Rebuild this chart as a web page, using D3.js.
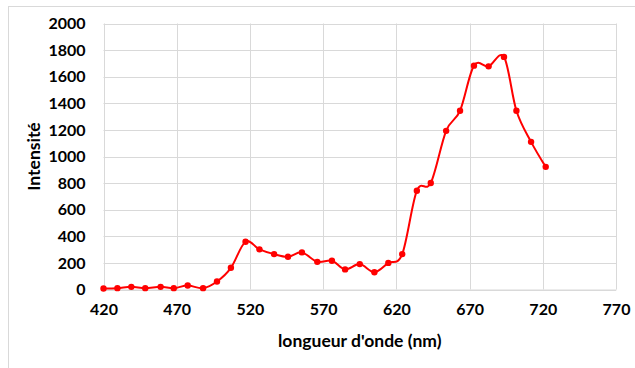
<!DOCTYPE html>
<html>
<head>
<meta charset="utf-8">
<script src="https://cdn.jsdelivr.net/npm/d3@7/dist/d3.min.js"></script>
<style>
  html, body { margin: 0; padding: 0; background: #fff; }
  svg { display: block; }
  text { font-family: Lato, "Open Sans", sans-serif; font-weight: bold; fill: #000; }
</style>
</head>
<body>
<svg id="chart" width="635" height="368"></svg>
<script>
// Spectre : longueur d'onde (nm) et intensité mesurée
const wavelengths = [420, 429.5, 439, 448.5, 459, 468, 477.5, 488, 497.5, 507, 517, 526.5,
                     536.5, 546, 555.5, 566, 576, 585, 595, 605, 614.5, 624, 634, 643.5,
                     654, 663.5, 673, 683, 693.5, 702, 712, 722];
const intensities = [8, 10, 20, 10, 20, 10, 30, 10, 60, 163, 359, 302,
                     266, 246, 279, 208, 216, 151, 191, 130, 200, 266, 743, 801,
                     1193, 1344, 1683, 1678, 1749, 1344, 1110, 922];
const xTicks = [420, 470, 520, 570, 620, 670, 720, 770];
const yTicks = [0, 200, 400, 600, 800, 1000, 1200, 1400, 1600, 1800, 2000];
const xTitle = "longueur d'onde (nm)";
const yTitle = "Intensité";

const svg = d3.select("#chart");
const margin = { left: 103.5, right: 616, top: 23.5, bottom: 289.5 };

// Cadre de la zone du graphique
svg.append("rect")
  .attr("x", 8.5).attr("y", 6.5)
  .attr("width", 700).attr("height", 400)
  .attr("fill", "none").attr("stroke", "#d9d9d9").attr("stroke-width", 1);

const x = d3.scaleLinear().domain([420, 770]).range([margin.left, margin.right]);
const y = d3.scaleLinear().domain([0, 2000]).range([margin.bottom, margin.top]);

// Grille
const grid = svg.append("g");
grid.selectAll("line.h").data(yTicks).join("line")
  .attr("x1", margin.left).attr("x2", margin.right)
  .attr("y1", d => Math.round(y(d)) + 0.5).attr("y2", d => Math.round(y(d)) + 0.5)
  .attr("stroke", "#d9d9d9").attr("stroke-width", 1);
grid.selectAll("line.v").data(xTicks).join("line")
  .attr("y1", margin.top).attr("y2", margin.bottom)
  .attr("x1", d => Math.round(x(d)) + 0.5).attr("x2", d => Math.round(x(d)) + 0.5)
  .attr("stroke", "#d9d9d9").attr("stroke-width", 1);

// Axe X
const xAxis = svg.append("g")
  .attr("transform", `translate(0,${margin.bottom})`)
  .call(d3.axisBottom(x).tickValues(xTicks).tickSize(0).tickPadding(14).tickFormat(d3.format("d")));
xAxis.select(".domain").attr("stroke", "#d9d9d9");
xAxis.selectAll("text").style("font-size", "16px").style("font-family", "Lato, sans-serif").style("font-weight", "bold");

// Axe Y
const yAxis = svg.append("g")
  .attr("transform", `translate(${margin.left},0)`)
  .call(d3.axisLeft(y).tickValues(yTicks).tickSize(0).tickPadding(18).tickFormat(d3.format("d")));
yAxis.select(".domain").remove();
yAxis.selectAll("text").style("font-size", "16px").style("font-family", "Lato, sans-serif").style("font-weight", "bold");

// Titres des axes
svg.append("text")
  .attr("x", (margin.left + margin.right) / 2).attr("y", 347)
  .attr("text-anchor", "middle").style("font-size", "17.5px")
  .text(xTitle);
svg.append("text")
  .attr("transform", `translate(40,${(margin.top + margin.bottom) / 2}) rotate(-90)`)
  .attr("text-anchor", "middle").style("font-size", "17.5px")
  .text(yTitle);

// Courbe lissée
const data = wavelengths.map((w, i) => ({ w, v: intensities[i] }));
const line = d3.line().x(d => x(d.w)).y(d => y(d.v)).curve(d3.curveCardinal.tension(0));
svg.append("path").datum(data)
  .attr("d", line)
  .attr("fill", "none").attr("stroke", "#ff0000").attr("stroke-width", 2);

// Points
svg.append("g").selectAll("circle").data(data).join("circle")
  .attr("cx", d => x(d.w)).attr("cy", d => y(d.v)).attr("r", 3.2)
  .attr("fill", "#ff0000");
</script>
</body>
</html>
